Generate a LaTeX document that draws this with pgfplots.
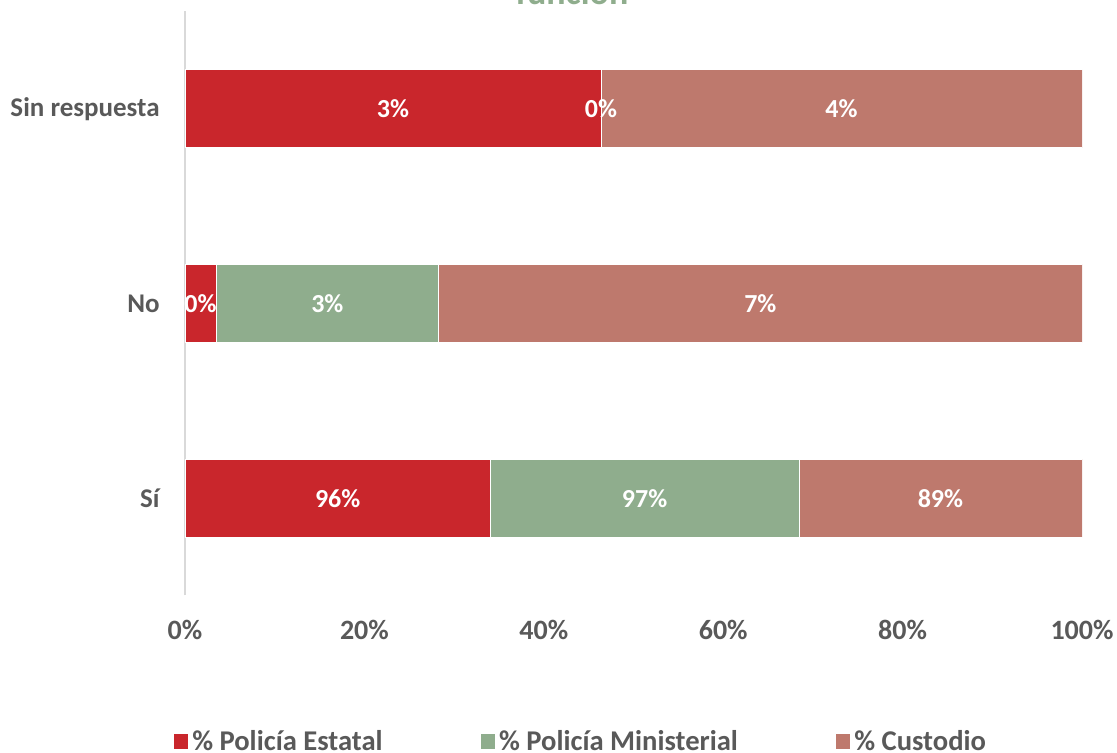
\documentclass[border=0pt]{standalone}
\usepackage{pgfplots}
\pgfplotsset{compat=1.18}
\usepackage{pgfplotstable}
\usepackage{fontspec}
\setmainfont{Carlito}
\definecolor{cRed}{HTML}{C9262C}
\definecolor{cGreen}{HTML}{8FAD8D}
\definecolor{cBrown}{HTML}{BE796D}
\definecolor{txtgray}{HTML}{595959}
\definecolor{axgray}{HTML}{D9D9D9}

% shares of each row (100% stacked) and the displayed labels
\pgfplotstableread{
pos red green cust redlab greenlab custlab
0 34.04 34.40 31.56 96 97 89
1 3.46 24.82 71.72 0 3 7
2 46.38 0.00 53.62 3 0 4
}\data

\pgfplotsset{commonax/.style={
  at={(92.5pt,78.75pt)}, anchor=south west,
  scale only axis, width=448.5pt, height=292pt,
  xmin=0, xmax=100, ymin=-0.5, ymax=2.5}}

\begin{document}
\begin{tikzpicture}
\begin{axis}[
  commonax,
  xbar stacked, bar width=39pt,
  ytick={0,1,2}, yticklabels={Sí,No,Sin respuesta},
  xtick={0,20,40,60,80,100},
  xticklabels={0\%,20\%,40\%,60\%,80\%,100\%},
  major tick length=0pt,
  separate axis lines,
  axis x line*=bottom, axis y line*=left,
  x axis line style={draw=none},
  y axis line style={draw=axgray, line width=1pt},
  xticklabel style={font=\fontsize{14}{16}\selectfont\bfseries, text=txtgray, anchor=base, yshift=-22.25pt, inner sep=0pt},
  yticklabel style={font=\fontsize{13.5}{15}\selectfont\bfseries, text=txtgray, anchor=east, xshift=-12.5pt, inner sep=0pt},
  legend columns=3,
  legend style={draw=none, fill=none, at={(0.4425,-0.2500)}, anchor=center,
    font=\fontsize{14.3}{16}\selectfont\bfseries, text=txtgray,
    /tikz/every even column/.append style={column sep=47pt},
    nodes={inner sep=2pt}},
  legend image code/.code={\fill[#1,draw=none] (0pt,-3.6pt) rectangle (7.2pt,3.6pt);},
]
\addplot[fill=cRed, draw=white, line width=0.4pt]
  table[y=pos, x=red] {\data};
\addplot[fill=cGreen, draw=white, line width=0.4pt]
  table[y=pos, x=green] {\data};
\addplot[fill=cBrown, draw=white, line width=0.4pt]
  table[y=pos, x=cust] {\data};
\legend{\% Policía Estatal, \% Policía Ministerial, \% Custodio}
\end{axis}
% data labels, drawn above all bars
\begin{axis}[
  commonax, hide axis,
  point meta=explicit symbolic,
  nodes near coords={\pgfplotspointmeta\%},
  every node near coord/.append style={font=\fontsize{13}{15}\selectfont\bfseries, text=white, anchor=center, inner sep=0pt},
]
\addplot[only marks, mark=none, draw=none]
  table[y=pos, x expr={\thisrow{red}/2}, meta=redlab] {\data};
\addplot[only marks, mark=none, draw=none]
  table[y=pos, x expr={\thisrow{red}+\thisrow{green}/2}, meta=greenlab] {\data};
\addplot[only marks, mark=none, draw=none]
  table[y=pos, x expr={\thisrow{red}+\thisrow{green}+\thisrow{cust}/2}, meta=custlab] {\data};
\end{axis}
\node[anchor=base, text=cGreen, font=\fontsize{18}{21}\selectfont\bfseries] at (286pt,374pt) {función};
\pgfresetboundingbox
\path[use as bounding box] (0,0) rectangle (558.5pt,376.5pt);
\end{tikzpicture}
\end{document}
